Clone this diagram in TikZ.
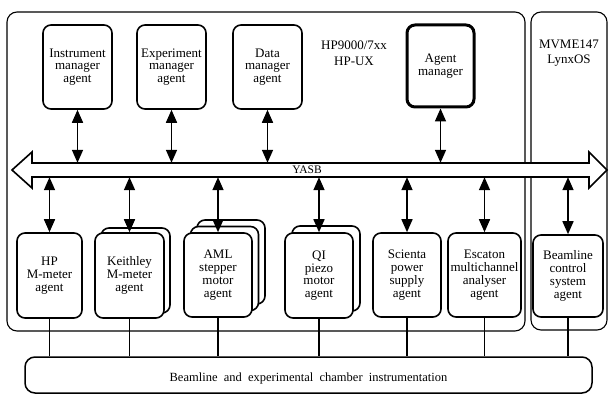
\documentclass[tikz,border=0pt]{standalone}
\usepackage{fontspec}
\setmainfont{Liberation Serif}
\usetikzlibrary{arrows.meta}
\begin{document}
\begin{tikzpicture}[x=1pt,y=-1pt,
  box/.style={draw, line width=1.6pt, rounded corners=8pt, fill=white, align=center,
    font=\fontsize{13}{12.8}\selectfont, inner sep=0pt},
  frame/.style={draw, line width=1.1pt, rounded corners=10pt, inner sep=0pt},
  link/.style={line width=1.6pt, {Triangle[length=13pt,width=11pt]}-{Triangle[length=13pt,width=11pt]}},
  wire/.style={line width=1.4pt},
  lbl/.style={align=center, font=\fontsize{13}{15.5}\selectfont, inner sep=0pt},
]
\useasboundingbox (0,0) rectangle (609,395);

% frames
\node[frame, minimum width=518pt, minimum height=319pt] (hpframe) at (266,171.5) {};
\node[frame, minimum width=76pt, minimum height=318pt] (mvframe) at (569,171) {};
\node[lbl] (hplbl) at (354,53) {HP9000/7xx\\HP-UX};
\node[lbl] (mvlbl) at (569,53) {MVME147\\LynxOS};

% bus
\node[inner sep=0pt, minimum width=557pt, minimum height=14pt] (bus) at (310.5,170) {};
\draw[line width=1.6pt, fill=white] (12,170) -- (32,152) -- (32,163) -- (589,163) -- (589,152)
  -- (607,170) -- (589,188) -- (589,177) -- (32,177) -- (32,188) -- cycle;
\node[font=\fontsize{11.5}{11.5}\selectfont, inner sep=0pt] (yasb) at (307,170) {YASB};

% top agents
\node[box, minimum width=69pt, minimum height=84pt] (instr) at (77.5,67) {Instrument\\manager\\agent};
\node[box, minimum width=69pt, minimum height=84pt] (exper) at (171.5,67) {Experiment\\manager\\agent};
\node[box, minimum width=69pt, minimum height=84pt] (data) at (267.5,67) {Data\\manager\\agent};
\node[box, line width=3pt, minimum width=67pt, minimum height=82pt] (agent) at (440.5,66) {Agent\\manager};

% bottom agents (back copies first)
\node[box, minimum width=69pt, minimum height=85pt] (keithb) at (135.5,270.5) {};
\node[box, minimum width=68pt, minimum height=84pt] (amlb2) at (231,262) {};
\node[box, minimum width=68pt, minimum height=84pt] (amlb1) at (224.5,268.5) {};
\node[box, minimum width=68pt, minimum height=85pt] (qib) at (326,268.5) {};

\node[box, minimum width=65pt, minimum height=85pt] (hp) at (49.5,275.5) {HP\\M-meter\\agent};
\node[box, minimum width=69pt, minimum height=85pt] (keith) at (129.5,275.5) {Keithley\\M-meter\\agent};
\node[box, minimum width=68pt, minimum height=84pt] (aml) at (218,275) {AML\\stepper\\motor\\agent};
\node[box, minimum width=68pt, minimum height=85pt] (qi) at (319,275.5) {QI\\piezo\\motor\\agent};
\node[box, minimum width=68pt, minimum height=84pt] (scienta) at (407,275) {Scienta\\power\\supply\\agent};
\node[box, minimum width=73pt, minimum height=84pt] (escaton) at (484.5,275) {Escaton\\multichannel\\analyser\\agent};
\node[box, minimum width=70pt, minimum height=82pt] (beam) at (568,276) {Beamline\\control\\system\\agent};

% base
\node[frame, line width=1.5pt, minimum width=567pt, minimum height=36pt, font=\fontsize{12.5}{12.5}\selectfont] (base) at (308.5,375)
  {\raisebox{-4pt}[8pt][3pt]{Beamline\ \ and\ \ experimental\ \ chamber\ \ instrumentation}};

% links to bus
\foreach \n in {instr,exper,data,agent}
  \draw[link] (\n.south) -- (\n.south |- bus.north);
\foreach \n in {hp,keith,aml,qi,scienta,escaton,beam}
  \draw[link] (\n.north |- bus.south) -- (\n.north);

% wires to base
\foreach \n in {hp,keith,aml,qi,scienta,escaton,beam}
  \draw[wire] (\n.south) -- (\n.south |- base.north);
\end{tikzpicture}
\end{document}
